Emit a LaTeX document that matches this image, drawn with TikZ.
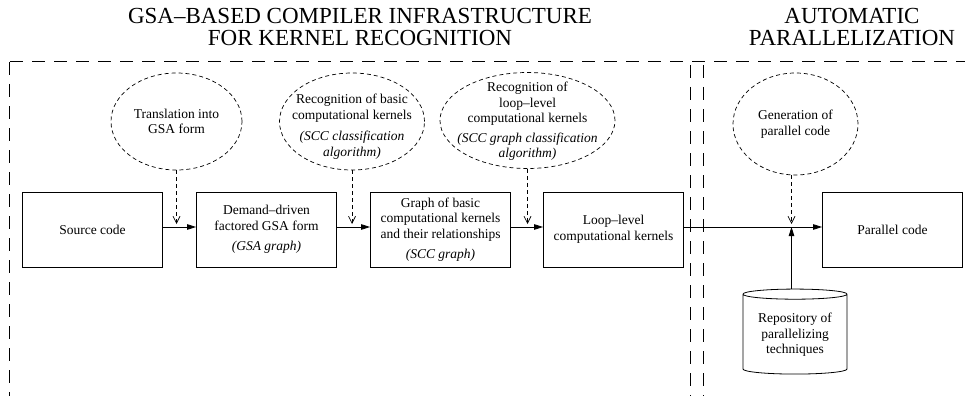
\documentclass[tikz,border=0pt]{standalone}
\usepackage{fontspec}
\setmainfont{Liberation Serif}
\usetikzlibrary{shapes.geometric,arrows.meta}
\begin{document}
\begin{tikzpicture}[x=1pt,y=-1pt,
  every node/.style={font=\fontsize{13.5}{15.5}\selectfont},
  stepbox/.style={draw, line width=0.8pt, minimum width=140pt, minimum height=75pt, align=center, inner sep=0pt},
  bubble/.style={draw, ellipse, line width=0.7pt, dash pattern=on 4pt off 3pt, inner sep=0pt},
  btext/.style={align=center, inner sep=0pt},
  flow/.style={line width=0.8pt, -{Triangle[length=9pt,width=5.5pt]}},
  hint/.style={line width=0.7pt, dash pattern=on 4pt off 3pt, -{Straight Barb[length=7pt,width=7pt,line width=0.7pt]}},
  frameline/.style={line width=0.8pt, dash pattern=on 13pt off 9pt},
  heading/.style={align=center, font=\fontsize{23}{22}\selectfont, inner sep=0pt},
  repostyle/.style={draw, cylinder, shape border rotate=90, aspect=0.13, minimum width=104pt, minimum height=85pt, line width=0.8pt, align=center, inner sep=2pt}
]
\fill[white] (0,0) rectangle (975,396);
\useasboundingbox (0,0) rectangle (975,396);

% headings
\node[heading] (h1) at (360,27) {GSA–BASED COMPILER INFRASTRUCTURE\\FOR KERNEL RECOGNITION};
\node[heading] (h2) at (852,27) {AUTOMATIC\\PARALLELIZATION};

% frame
\coordinate (fa) at (10,61.5);
\coordinate (fb) at (965,61.5);
\coordinate (la) at (9,62);
\coordinate (lb) at (9,396);
\coordinate (ma) at (690.7,65);
\coordinate (mb) at (690.7,396);
\coordinate (na) at (703,65);
\coordinate (nb) at (703,396);
\draw[frameline] (fa) -- (fb);
\draw[frameline] (la) -- (lb);
\draw[frameline] (ma) -- (mb);
\draw[frameline] (na) -- (nb);

% boxes
\node[stepbox] (src) at (92.5,229.5) {Source code};
\node[stepbox] (dem) at (266.5,229.5) {Demand–driven\\factored GSA form\\[5pt]\textit{(GSA graph)}};
\node[stepbox] (scc) at (440.5,229.5) {Graph of basic\\computational kernels\\and their relationships\\[5pt]\textit{(SCC graph)}};
\node[stepbox] (loop) at (613.5,229.5) {Loop–level\\computational kernels};
\node[stepbox] (par) at (892.5,229.5) {Parallel code};

% ellipses
\node[bubble, minimum width=131pt, minimum height=97pt] (e1) at (176.5,121.5) {};
\node[btext] (t1) at (e1.center) {Translation into\\GSA form};
\node[bubble, minimum width=145pt, minimum height=97pt] (e2) at (352,121.5) {};
\node[btext] (t2) at ([yshift=-5pt]e2.center) {Recognition of basic\\computational kernels\\[6pt]\textit{(SCC classification}\\\textit{algorithm)}};
\node[bubble, minimum width=175pt, minimum height=96pt] (e3) at (527.5,120.5) {};
\node[btext] (t3) at ([yshift=-1pt]e3.center) {Recognition of\\loop–level\\computational kernels\\[4pt]\textit{(SCC graph classification}\\\textit{algorithm)}};
\node[bubble, minimum width=125pt, minimum height=102pt] (e4) at (795.5,124) {};
\node[btext] (t4) at (e4.center) {Generation of\\parallel code};

% repository
\node[repostyle] (repo) at (795,335) {Repository of\\parallelizing\\techniques};

% coordinates
\coordinate (j) at (791.5,227);
\coordinate (tip1) at (176.5,224);
\coordinate (tip2) at (352,224);
\coordinate (tip3) at (527.5,224);

% connectors
\draw[flow] ([yshift=2.5pt]src.east) -- ([yshift=2.5pt]dem.west);
\draw[flow] ([yshift=2.5pt]dem.east) -- ([yshift=2.5pt]scc.west);
\draw[flow] ([yshift=2.5pt]scc.east) -- ([yshift=2.5pt]loop.west);
\draw[flow] ([yshift=2.5pt]loop.east) -- ([yshift=2.5pt]par.west);
\draw[flow] (j |- repo.north) -- (j);
\draw[hint] (e1.south) -- (tip1);
\draw[hint] (e2.south) -- (tip2);
\draw[hint] (e3.south) -- (tip3);
\draw[hint] (j |- e4.south) -- ([yshift=3pt]j);
\end{tikzpicture}
\end{document}
